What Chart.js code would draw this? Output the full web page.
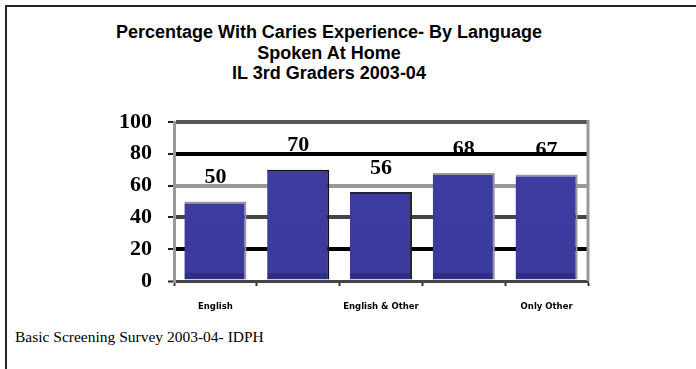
<!DOCTYPE html>
<html>
<head>
<meta charset="utf-8">
<script src="https://cdn.jsdelivr.net/npm/chart.js@4"></script>
<style>
    body { margin: 0; background: #fff; width: 696px; height: 369px; overflow: hidden; position: relative; }
    #frame { position: absolute; left: 5px; top: 5px; width: 720px; height: 400px; border-left: 2px solid #222; border-top: 2px solid #222; }
    #title { position: absolute; left: 29px; width: 600px; top: 22px; text-align: center; font: bold 18px "Liberation Sans", Arial, sans-serif; line-height: 20.5px; color: #000; }
    #source { position: absolute; left: 15px; top: 328px; font: 15.5px "Liberation Serif", "Times New Roman", serif; color: #000; }
    #wrap { position: absolute; left: 0; top: 0; width: 696px; height: 369px; }
</style>
</head>
<body>
<div id="frame"></div>
<div id="title">Percentage With Caries Experience- By Language<br>Spoken At Home<br>IL 3rd Graders 2003-04</div>
<div id="source">Basic Screening Survey 2003-04- IDPH</div>
<div id="wrap"><canvas id="cariesChart"></canvas></div>

<script>
// language groups (only every other one is labelled on the axis)
const languages = ['English', '', 'English & Other', '', 'Only Other'];
const cariesPct = [50, 70, 56, 68, 67];
const yTicks = [0, 20, 40, 60, 80, 100];

// gridline look for each y tick, bottom to top
const gridColors = ['#555', '#000', '#444', '#999', '#000', '#555'];
const barEdges = ['#999', '#111', '#222', '#999', '#999'];

// value labels go under the gridlines, so they are painted first
const valueLabels = {
    id: 'valueLabels',
    beforeDraw(chart) {
        const ctx = chart.ctx;
        const meta = chart.getDatasetMeta(0);
        ctx.save();
        ctx.font = 'bold 22px "Liberation Serif", "Times New Roman", serif';
        ctx.fillStyle = '#000';
        ctx.textAlign = 'center';
        ctx.textBaseline = 'middle';
        meta.data.forEach((bar, i) => {
            ctx.fillText(cariesPct[i], bar.x, bar.y - 24);
        });
        ctx.restore();
    }
};

// right edge of the back wall
const wallEdge = {
    id: 'wallEdge',
    beforeDatasetsDraw(chart) {
        const { ctx, chartArea } = chart;
        ctx.save();
        ctx.strokeStyle = '#999';
        ctx.lineWidth = 3;
        ctx.beginPath();
        ctx.moveTo(chartArea.right, chartArea.top - 2);
        ctx.lineTo(chartArea.right, chartArea.bottom);
        ctx.stroke();
        ctx.restore();
    }
};

const barFill = (context) => {
    const area = context.chart.chartArea;
    if (!area) return '#3c3ca0';
    const g = context.chart.ctx.createLinearGradient(0, area.top, 0, area.bottom);
    const cut = (area.bottom - area.top - 8) / (area.bottom - area.top);
    g.addColorStop(0, '#3d3da2');
    g.addColorStop(cut, '#3b3b9e');
    g.addColorStop(cut + 0.001, '#2e2e86');
    g.addColorStop(1, '#2e2e86');
    return g;
};

new Chart(document.getElementById('cariesChart'), {
    type: 'bar',
    data: {
        labels: languages,
        datasets: [{
            data: cariesPct,
            backgroundColor: barFill,
            borderColor: barEdges,
            borderWidth: { top: 2, right: 2, left: 0, bottom: 0 },
            borderSkipped: false,
            barPercentage: 0.75,
            categoryPercentage: 1
        }]
    },
    options: {
        responsive: true,
        maintainAspectRatio: false,
        animation: false,
        layout: { padding: { left: 116, right: 108, top: 122, bottom: 50 } },
        plugins: {
            legend: { display: false },
            title: { display: false },
            tooltip: { enabled: false }
        },
        scales: {
            x: {
                afterFit: (scale) => { scale.height = 38; },
                grid: {
                    offset: true,
                    drawOnChartArea: false,
                    tickLength: 5,
                    tickColor: '#333',
                    tickWidth: 2
                },
                border: { color: '#444', width: 3 },
                ticks: {
                    autoSkip: false,
                    maxRotation: 0,
                    padding: 16,
                    color: '#000',
                    font: { family: '"DejaVu Sans", Verdana, sans-serif', size: 8.5, weight: 'bold' }
                }
            },
            y: {
                min: 0,
                max: 100,
                afterFit: (scale) => { scale.width = 58; },
                afterBuildTicks: (scale) => { scale.ticks = yTicks.map(v => ({ value: v })); },
                grid: {
                    color: (c) => gridColors[c.index] || '#555',
                    lineWidth: (c) => c.index === 0 ? 3 : 4,
                    tickLength: 6,
                    tickColor: '#222',
                    tickWidth: 2
                },
                border: { color: '#999', width: 3 },
                ticks: {
                    padding: 16,
                    color: '#000',
                    font: { family: '"Liberation Serif", "Times New Roman", serif', size: 22, weight: 'bold' }
                }
            }
        }
    },
    plugins: [valueLabels, wallEdge]
});
</script>
</body>
</html>
